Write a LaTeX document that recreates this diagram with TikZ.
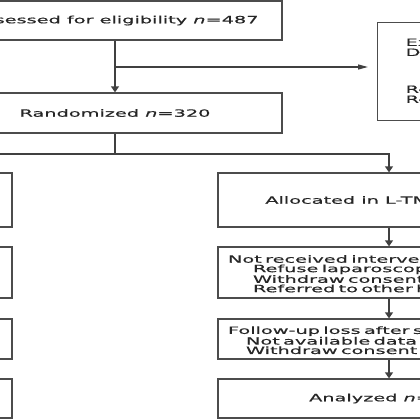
\documentclass[tikz,border=0pt]{standalone}
\usepackage{fontspec}
\setmainfont{DejaVu Sans}[FakeStretch=1.93,FakeBold=0.6]
\usepackage{tikz}
\usetikzlibrary{arrows.meta,positioning}

\newcommand{\nn}{\textit{n}}

\begin{document}
\begin{tikzpicture}[x=1pt,y=-1pt,
  box/.style={draw=black!70,line width=1.3pt,minimum width=342pt,inner sep=0pt,
    font=\fontsize{10}{10}\selectfont,text=black!85},
  listbox/.style={box,text width=322pt,inner xsep=10pt,align=left,
    font=\fontsize{10}{9.4}\selectfont},
  arr/.style={draw=black!75,line width=1.3pt,-{Triangle[width=8pt,length=6pt]}},
  link/.style={draw=black!75,line width=1.3pt}]
\useasboundingbox (0,0) rectangle (420,420);

\path (115,20.5) node[box,minimum width=334pt,minimum height=39pt] (elig) {Assessed for eligibility \nn=487};
\path (115,113)  node[box,minimum width=334pt,minimum height=40pt] (rand) {Randomized \nn=320};
\path (377,22)   node[box,anchor=north west,minimum width=0pt,minimum height=98pt,
  inner xsep=28pt,align=left] (excl)
  {Excluded \nn=167\\ Did not meet inclusion criteria\\[27pt] Refused to participate\\ Reasons not given};

% right arm
\path (389,200)   node[box,minimum height=54pt] (allocR) {Allocated in L-TME \nn=160};
\path (389,272.5) node[listbox,minimum height=51pt] (recvR)
  {\rule{0pt}{12pt}Not received intervention\\ \hspace*{25pt}Refuse laparoscopic surgery\\
   \hspace*{25pt}Withdraw consent \nn=\\ \hspace*{25pt}Referred to other hospital};
\path (389,339)   node[listbox,minimum height=40pt] (lossR)
  {\rule{0pt}{10pt}Follow-up loss after surgery\\ \hspace*{18pt}Not available data \nn=\\
   \hspace*{18pt}Withdraw consent \nn=};
\path (389,398.5) node[box,minimum height=39pt] (anaR) {Analyzed \nn=155};

% left arm
\path (-159,200)   node[box,minimum height=54pt] (allocL) {Allocated in O-TME \nn=160};
\path (-159,272.5) node[listbox,minimum height=51pt] (recvL)
  {Not received intervention\\ \hspace*{25pt}Withdraw consent \nn=};
\path (-159,339)   node[listbox,minimum height=40pt] (lossL)
  {Follow-up loss after surgery\\ \hspace*{18pt}Not available data \nn=};
\path (-159,398.5) node[box,minimum height=39pt] (anaL) {Analyzed \nn=};

\coordinate (branch) at (115,67);
\coordinate (split) at (115,154);

\draw[arr] (elig) to (rand);
\draw[arr,-{Triangle[width=5pt,length=10pt]},shorten >=9pt] (branch) to (branch -| excl.west);
\draw[link] (rand) to (split);
\draw[arr] (split) -| (allocR);
\draw[arr] (split) -| (allocL);

\draw[arr] (allocR) to (recvR);
\draw[arr] (recvR) to (lossR);
\draw[arr] (lossR) to (anaR);
\draw[arr] (allocL) to (recvL);
\draw[arr] (recvL) to (lossL);
\draw[arr] (lossL) to (anaL);
\end{tikzpicture}
\end{document}
